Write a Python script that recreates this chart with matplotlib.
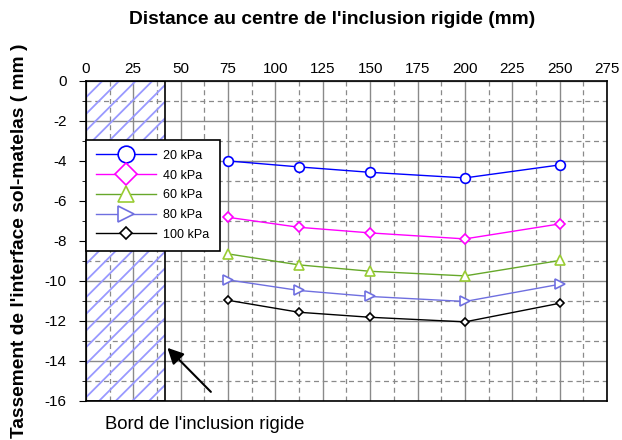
import numpy as np
from matplotlib import pyplot as plt
from matplotlib.patches import Rectangle

plt.rcParams["font.family"] = ["Liberation Sans", "DejaVu Sans"]
plt.rcParams["axes.unicode_minus"] = False
plt.rcParams["hatch.linewidth"] = 1.3

distance = [75, 112.5, 150, 200, 250]
charges = ["20 kPa", "40 kPa", "60 kPa", "80 kPa", "100 kPa"]
tassement = [
    [-4.0, -4.3, -4.57, -4.85, -4.2],
    [-6.82, -7.32, -7.6, -7.9, -7.15],
    [-8.65, -9.2, -9.52, -9.75, -8.98],
    [-9.95, -10.48, -10.78, -11.03, -10.17],
    [-10.97, -11.57, -11.82, -12.05, -11.12],
]
bord_inclusion = 42

couleurs = ["#0000ff", "#ff00ff", "#66a82a", "#6f6fe0", "#000000"]
marqueurs = ["o", "D", "^", ">", "D"]
tailles = [7, 5.5, 7, 7, 4.5]
tailles_legende = [12, 11, 12, 12, 6]

fig = plt.figure(figsize=(6.22, 4.4), dpi=100)
ax = fig.add_axes([0.138, 0.089, 0.838, 0.727])

ax.set_xlim(0, 275)
ax.set_ylim(-16, 0)

ax.xaxis.set_major_locator(plt.MultipleLocator(25))
ax.xaxis.set_minor_locator(plt.MultipleLocator(12.5))
ax.yaxis.set_major_locator(plt.MultipleLocator(2))
ax.yaxis.set_minor_locator(plt.MultipleLocator(1))
ax.xaxis.tick_top()
ax.tick_params(which="both", direction="in", length=0, labelsize=11)
ax.tick_params(axis="y", which="major", length=5, direction="out", pad=9)
ax.tick_params(axis="y", which="minor", length=3, direction="out")

ax.grid(which="major", linestyle="-", color="#8a8a8a", linewidth=1)
ax.grid(which="minor", linestyle=(0, (4, 3)), color="#8a8a8a", linewidth=0.9)
ax.set_axisbelow(True)

# zone de l'inclusion rigide
ax.add_patch(Rectangle((0, -16), bord_inclusion, 16, facecolor="none",
                       edgecolor="#9999ff", hatch="//", linewidth=0, zorder=1.5))
ax.add_patch(Rectangle((0, -16), bord_inclusion, 16, facecolor="none",
                       edgecolor="black", linewidth=1.2, zorder=1.6))

for vals, nom, c, m, s in zip(tassement, charges, couleurs, marqueurs, tailles):
    mec = "#99cc33" if nom == "60 kPa" else c
    ax.plot(distance, vals, color=c, marker=m, markersize=s, markerfacecolor="white",
            markeredgecolor=mec, markeredgewidth=1.2, linewidth=1, label=nom, zorder=3)

leg = ax.legend(loc="upper left", bbox_to_anchor=(0.0, 0.816), borderaxespad=0,
                fontsize=9, frameon=True, fancybox=False, edgecolor="black",
                framealpha=1, handlelength=4.8, handletextpad=0.6, borderpad=0.8,
                labelspacing=0.62)
leg.get_frame().set_linewidth(1.2)
leg.set_zorder(5)
for h, t in zip(leg.legend_handles, tailles_legende):
    h.set_markersize(t)

fig.text(332 / 622, 1 - 20 / 440, "Distance au centre de l'inclusion rigide (mm)",
         fontsize=13.8, fontweight="bold", ha="center", va="center")
fig.text(20 / 622, 0.5 - (241 - 220) / 440, "Tassement de l'interface sol-matelas ( mm )",
         fontsize=13.8, fontweight="bold", rotation=90, ha="center", va="center")

ax.annotate("", xy=(bord_inclusion, -13.25), xytext=(67, -15.65),
            arrowprops=dict(arrowstyle="-|>", color="black", lw=1.5, mutation_scale=24),
            annotation_clip=False)
ax.text(10, -17.2, "Bord de l'inclusion rigide", fontsize=13.3, va="center")

for s in ax.spines.values():
    s.set_linewidth(1.2)

plt.savefig("out.png")
